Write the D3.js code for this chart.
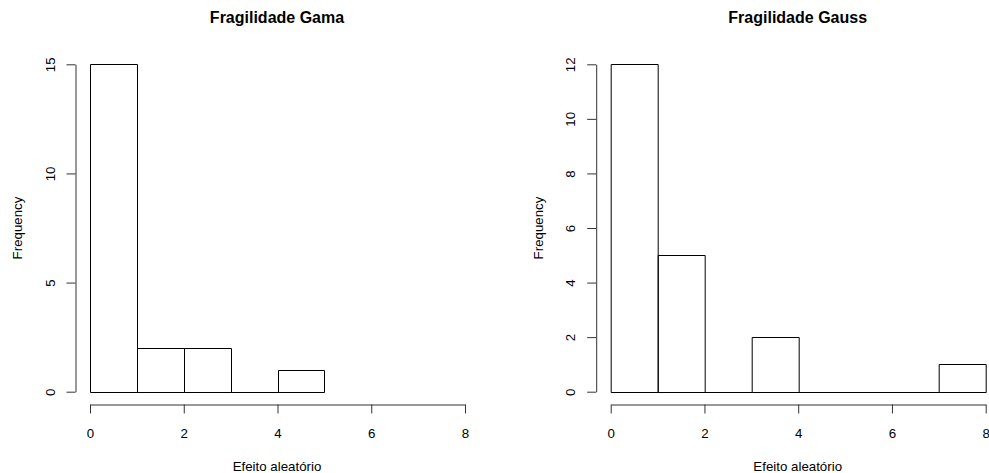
<!DOCTYPE html>
<html>
<head>
<meta charset="utf-8">
<script src="https://cdn.jsdelivr.net/npm/d3@7"></script>
<style>
  body { margin: 0; background: #fff; }
  svg { display: block; font-family: "Liberation Sans", Arial, sans-serif; }
</style>
</head>
<body>
<svg width="989" height="473"></svg>
<script>
// bins de 1 unidade, de 0 a 8
var binEdges = [0, 1, 2, 3, 4, 5, 6, 7, 8];
var gamaCounts = [15, 2, 2, 0, 1];
var gaussCounts = [12, 5, 0, 2, 0, 0, 0, 1];
var xTicks = [0, 2, 4, 6, 8];
var gamaYTicks = [0, 5, 10, 15];
var gaussYTicks = [0, 2, 4, 6, 8, 10, 12];

var svg = d3.select("svg");
var fs = 13.3;

function histograma(offsetX, titulo, counts, yTicks) {
    var g = svg.append("g").attr("transform", "translate(" + offsetX + ",0)");
    var yMax = yTicks[yTicks.length - 1];

    var x = d3.scaleLinear().domain([0, 8]).range([90, 465]);
    var y = d3.scaleLinear().domain([0, yMax]).range([391.7, 64.3]);

    // barras (path para que as classes vazias aparecam como linha)
    var bins = counts.map(function (c, i) { return { x0: binEdges[i], x1: binEdges[i + 1], n: c }; });
    g.selectAll(".bar").data(bins).enter().append("path")
        .attr("class", "bar")
        .attr("d", function (d) {
            var l = Math.round(x(d.x0)) + 0.5, r = Math.round(x(d.x1)) + 0.5;
            var b = Math.round(y(0)) + 0.5, t = Math.round(y(d.n)) + 0.5;
            return "M" + l + "," + b + "L" + l + "," + t + "L" + r + "," + t + "L" + r + "," + b + "Z";
        })
        .attr("fill", "none")
        .attr("stroke", "#000")
        .attr("stroke-width", 1);

    // eixo x
    var xAxis = g.append("g")
        .attr("transform", "translate(0,404.5)")
        .call(d3.axisBottom(x).tickValues(xTicks).tickSize(9).tickSizeOuter(0).tickFormat(d3.format("d")));
    xAxis.selectAll("text").attr("y", 0).attr("dy", "0").attr("transform", "translate(0,33)")
        .attr("font-size", fs).attr("fill", "#000").attr("font-family", "Liberation Sans, Arial, sans-serif");
    xAxis.selectAll("path, line").attr("stroke", "#333");

    // eixo y
    var yAxis = g.append("g")
        .attr("transform", "translate(75.5,0)")
        .call(d3.axisLeft(y).tickValues(yTicks).tickSize(9).tickSizeOuter(0).tickFormat(d3.format("d")));
    yAxis.selectAll("text").attr("x", 0).attr("dy", "0")
        .attr("text-anchor", "middle")
        .attr("transform", "translate(-21,0) rotate(-90)")
        .attr("font-size", fs).attr("fill", "#000").attr("font-family", "Liberation Sans, Arial, sans-serif");
    yAxis.selectAll("path, line").attr("stroke", "#333");

    // titulo e rotulos
    g.append("text")
        .attr("x", 277).attr("y", 23)
        .attr("text-anchor", "middle")
        .attr("font-size", 16).attr("font-weight", "bold")
        .text(titulo);
    g.append("text")
        .attr("x", 277).attr("y", 471)
        .attr("text-anchor", "middle")
        .attr("font-size", fs)
        .text("Efeito aleatório");
    g.append("text")
        .attr("transform", "translate(22," + ((y(0) + y(yMax)) / 2) + ") rotate(-90)")
        .attr("text-anchor", "middle")
        .attr("font-size", fs)
        .text("Frequency");
}

histograma(0, "Fragilidade Gama", gamaCounts, gamaYTicks);
histograma(520.7, "Fragilidade Gauss", gaussCounts, gaussYTicks);
</script>
</body>
</html>
